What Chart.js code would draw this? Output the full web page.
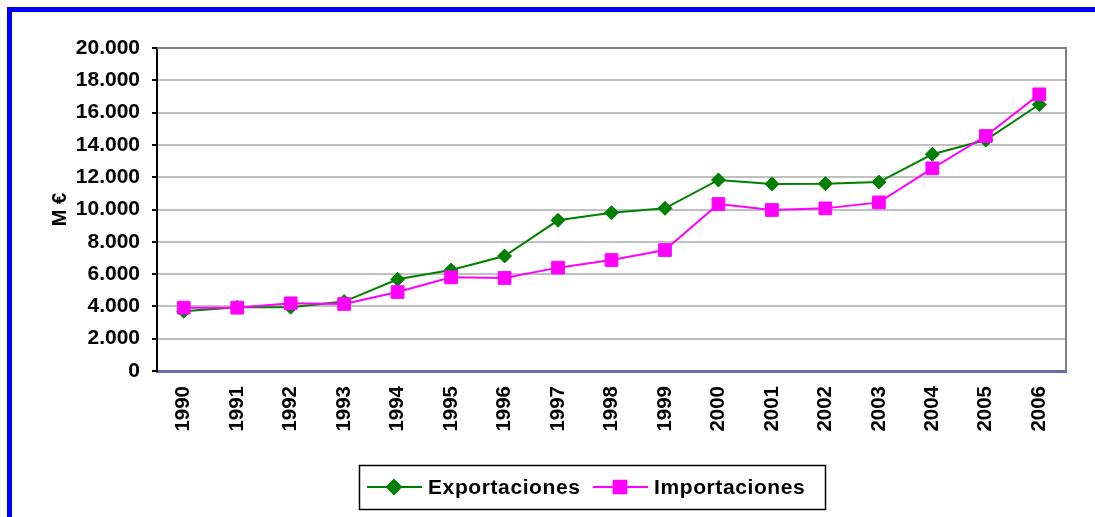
<!DOCTYPE html>
<html>
<head>
<meta charset="utf-8">
<script src="https://cdn.jsdelivr.net/npm/chart.js@4.4.1/dist/chart.umd.min.js"></script>
<style>
  html, body { margin: 0; padding: 0; background: #fff; }
  #wrap { position: relative; width: 1095px; height: 517px; }
</style>
</head>
<body>
<div id="wrap"><canvas id="comercioChart" width="1095" height="517"></canvas></div>
<script>
// datos (M €)
const years = ['1990', '1991', '1992', '1993', '1994', '1995', '1996', '1997', '1998',
	'1999', '2000', '2001', '2002', '2003', '2004', '2005', '2006'];
const exportaciones = [3700, 3950, 3950, 4300, 5680, 6250, 7120, 9330, 9800,
	10070, 11830, 11580, 11600, 11700, 13420, 14300, 16500];
const importaciones = [3920, 3920, 4190, 4150, 4890, 5800, 5760, 6400, 6870,
	7490, 10340, 9970, 10070, 10440, 12550, 14550, 17130];
const yMax = 20000;
const yStep = 2000;

const FONT = "'Liberation Sans', Arial, sans-serif";

function formatMiles(v) {
	return String(v).replace(/\B(?=(\d{3})+(?!\d))/g, '.');
}

// marco azul + borde del área de trazado + leyenda con recuadro
const decoPlugin = {
	id: 'deco',
	beforeDraw(chart) {
		const ctx = chart.ctx;
		ctx.save();
		ctx.fillStyle = '#0000ff';
		ctx.fillRect(7, 7, chart.width - 7, 5);
		ctx.fillRect(7, 7, 5, chart.height - 7);
		ctx.restore();
	},
	afterDatasetsDraw(chart) {
		const ctx = chart.ctx;
		const a = chart.chartArea;
		ctx.save();
		ctx.strokeStyle = '#808080';
		ctx.lineWidth = 2;
		ctx.beginPath();
		ctx.moveTo(a.left, a.top);
		ctx.lineTo(a.right, a.top);
		ctx.lineTo(a.right, a.bottom);
		ctx.stroke();
		ctx.restore();
	},
	afterDraw(chart) {
		const ctx = chart.ctx;
		ctx.save();
		// recuadro
		ctx.strokeStyle = '#000';
		ctx.lineWidth = 1.5;
		ctx.strokeRect(359.5, 465.5, 466, 44);
		const cy = 487;
		const items = [
			{ x: 367, text: chart.data.datasets[0].label, color: '#008000', style: 'rectRot', r: 7 },
			{ x: 593, text: chart.data.datasets[1].label, color: '#ff00ff', style: 'rect', r: 9 }
		];
		items.forEach(it => {
			ctx.strokeStyle = it.color;
			ctx.lineWidth = 2;
			ctx.beginPath();
			ctx.moveTo(it.x, cy);
			ctx.lineTo(it.x + 55, cy);
			ctx.stroke();
			Chart.helpers.drawPoint(ctx, {
				pointStyle: it.style, radius: it.r, borderWidth: 1, rotation: 0
			}, it.x + 27, cy);
			ctx.fillStyle = it.color;
			ctx.fill();
			ctx.fillStyle = '#000';
			ctx.font = 'bold 21px ' + FONT;
			ctx.letterSpacing = '0.6px';
			ctx.textBaseline = 'middle';
			ctx.textAlign = 'left';
			ctx.fillText(it.text, it.x + 61, cy + 1);
		});
		ctx.restore();
	}
};

const ctx = document.getElementById('comercioChart').getContext('2d');
new Chart(ctx, {
	type: 'line',
	data: {
		labels: years,
		datasets: [{
			label: 'Exportaciones',
			data: exportaciones,
			borderColor: '#008000',
			backgroundColor: '#008000',
			borderWidth: 2,
			pointStyle: 'rectRot',
			pointRadius: 7,
			pointBorderWidth: 1,
			tension: 0,
			order: 1
		}, {
			label: 'Importaciones',
			data: importaciones,
			borderColor: '#ff00ff',
			backgroundColor: '#ff00ff',
			borderWidth: 2,
			pointStyle: 'rect',
			pointRadius: 9,
			pointBorderWidth: 1,
			tension: 0,
			order: 0
		}]
	},
	options: {
		responsive: false,
		animation: false,
		layout: {
			padding: { left: 40, top: 48, right: 29, bottom: 66 }
		},
		plugins: {
			legend: { display: false },
			tooltip: { enabled: false }
		},
		scales: {
			x: {
				offset: true,
				afterFit: s => { s.height = 80; },
				grid: { display: false, drawTicks: false, offset: true },
				border: { color: '#6b6ba6', width: 3 },
				ticks: {
					color: '#000',
					font: { family: FONT, size: 20.5, weight: 'bold' },
					maxRotation: 90,
					minRotation: 90,
					padding: 15
				}
			},
			y: {
				min: 0,
				max: yMax,
				afterFit: s => { s.width = 117; },
				grid: { color: '#c0c0c0', lineWidth: 2, tickColor: '#000', tickLength: 5 },
				border: { color: '#000', width: 2 },
				ticks: {
					stepSize: yStep,
					color: '#000',
					padding: 12,
					font: { family: FONT, size: 21, weight: 'bold' },
					callback: v => formatMiles(v)
				},
				title: {
					display: true,
					text: 'M €',
					color: '#000',
					font: { family: FONT, size: 20, weight: 'bold' },
					padding: { top: 8, bottom: 0 }
				}
			}
		}
	},
	plugins: [decoPlugin]
});
</script>
</body>
</html>
